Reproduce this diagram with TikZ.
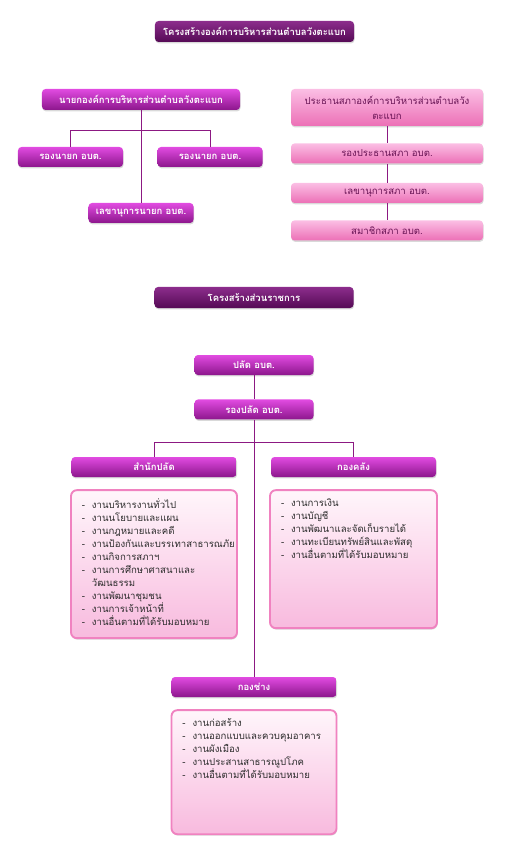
\documentclass[tikz,border=0pt]{standalone}
\usepackage{fontspec}
\setmainfont[Script=Thai]{Loma}
\usepackage{tikz}
\usetikzlibrary{
	positioning,
	shadows
}
\definecolor{TitleTop}{RGB}{140,45,140}
\definecolor{TitleBot}{RGB}{85,10,85}
\definecolor{HeadTop}{RGB}{225,75,225}
\definecolor{HeadBot}{RGB}{140,22,140}
\definecolor{PinkTop}{RGB}{251,190,228}
\definecolor{PinkBot}{RGB}{236,112,182}
\definecolor{PinkText}{RGB}{105,20,85}
\definecolor{ListEdge}{RGB}{240,130,192}
\definecolor{ListTop}{RGB}{255,246,251}
\definecolor{ListBot}{RGB}{248,186,222}
\definecolor{ListText}{RGB}{45,45,45}
\definecolor{LinkPurple}{RGB}{140,25,130}

\newcommand{\jobitem}[1]{\makebox[0.3cm][l]{-}#1\par}
\newcommand{\joblist}[3]{\parbox[c][#1][t]{#2}{\vspace*{0.25cm}\setlength{\leftskip}{0.33cm}\setlength{\parindent}{0pt}\fontsize{8.2}{11.1}\selectfont\color{ListText}#3}}

\begin{document}
\begin{tikzpicture}[
	x=0.03cm, y=-0.03cm,
	titlebox/.style={
		rounded corners=3pt,
		top color=TitleTop,
		bottom color=TitleBot,
		text=white,
		font=\bfseries\fontsize{8.1}{10}\selectfont,
		inner sep=0pt,
		minimum width=5.97cm,
		minimum height=0.63cm,
		drop shadow={shadow xshift=0.5pt, shadow yshift=-1.2pt, opacity=0.3}
	},
	headbox/.style={
		rounded corners=3pt,
		top color=HeadTop,
		bottom color=HeadBot,
		text=white,
		font=\bfseries\fontsize{8.1}{10}\selectfont,
		inner sep=0pt,
		minimum height=0.6cm,
		drop shadow={shadow xshift=0.5pt, shadow yshift=-1.2pt, opacity=0.3}
	},
	pinkbox/.style={
		rounded corners=3pt,
		top color=PinkTop,
		bottom color=PinkBot,
		text=PinkText,
		font=\fontsize{8.2}{13}\selectfont,
		align=center,
		inner sep=0pt,
		minimum width=5.76cm,
		minimum height=0.6cm,
		drop shadow={shadow xshift=0.5pt, shadow yshift=-1.2pt, opacity=0.3}
	},
	listbox/.style={
		draw=ListEdge,
		line width=1.6pt,
		rounded corners=5pt,
		top color=ListTop,
		bottom color=ListBot,
		inner sep=0pt,
		drop shadow={shadow xshift=0.5pt, shadow yshift=-1.2pt, opacity=0.3}
	},
	link/.style={
		draw=LinkPurple,
		line width=0.8pt
	}
	]
	\useasboundingbox (0,0) rectangle (509,850);
	
	% top part
	\node[titlebox] (title) at (254.5,31.5) {โครงสร้างองค์การบริหารส่วนตำบลวังตะแบก};
	
	\node[
	headbox,
	minimum width=5.94cm,
	minimum height=0.63cm
	] (nayok) at (141,99.5) {นายกองค์การบริหารส่วนตำบลวังตะแบก};
	
	\node[headbox, minimum width=3.15cm] (rongL) at (70.5,157) {รองนายก อบต.};
	\node[headbox, minimum width=3.15cm] (rongR) at (210,157) {รองนายก อบต.};
	\node[headbox, minimum width=3.15cm] (lekha) at (141,213) {เลขานุการนายก อบต.};
	
	\coordinate[below=0.6cm of nayok.south] (nayokjoin);
	\draw[link] (nayok.south) -- (lekha.north);
	\draw[link] (rongL.north) |- (nayokjoin) -| (rongR.north);
	
	% council
	\node[
	pinkbox,
	minimum height=1.11cm
	] (prathan) at (387,107.5) {ประธานสภาองค์การบริหารส่วนตำบลวัง\\ตะแบก};
	
	\node[pinkbox, below=0.51cm of prathan] (rongprathan) {รองประธานสภา อบต.};
	\node[pinkbox, below=0.57cm of rongprathan] (lekhasapha) {เลขานุการสภา อบต.};
	\node[pinkbox, below=0.51cm of lekhasapha] (samachik) {สมาชิกสภา อบต.};
	
	\draw[link] (prathan) -- (rongprathan) -- (lekhasapha) -- (samachik);
	
	% civil service part
	\node[titlebox] (title2) at (254,297.5) {โครงสร้างส่วนราชการ};
	
	\node[headbox, minimum width=3.57cm] (palad) at (254,365) {ปลัด อบต.};
	\node[headbox, minimum width=3.57cm, below=0.72cm of palad] (rongpalad) {รองปลัด อบต.};
	
	\node[headbox, minimum width=4.95cm] (samnak) at (154,467) {สำนักปลัด};
	\node[headbox, minimum width=4.95cm] (klang) at (353.5,467) {กองคลัง};
	\node[headbox, minimum width=4.95cm] (chang) at (254,687) {กองช่าง};
	
	\node[
	listbox,
	below=0.36cm of samnak
	] (listA) {\joblist{4.44cm}{4.98cm}{
			\jobitem{งานบริหารงานทั่วไป}
			\jobitem{งานนโยบายและแผน}
			\jobitem{งานกฎหมายและคดี}
			\jobitem{งานป้องกันและบรรเทาสาธารณภัย}
			\jobitem{งานกิจการสภาฯ}
			\jobitem{งานการศึกษาศาสนาและ\\\hspace*{0.3cm}วัฒนธรรม}
			\jobitem{งานพัฒนาชุมชน}
			\jobitem{งานการเจ้าหน้าที่}
			\jobitem{งานอื่นตามที่ได้รับมอบหมาย}}};
	
	\node[
	listbox,
	below=0.36cm of klang
	] (listB) {\joblist{4.14cm}{5.01cm}{
			\jobitem{งานการเงิน}
			\jobitem{งานบัญชี}
			\jobitem{งานพัฒนาและจัดเก็บรายได้}
			\jobitem{งานทะเบียนทรัพย์สินและพัสดุ}
			\jobitem{งานอื่นตามที่ได้รับมอบหมาย}}};
	
	\node[
	listbox,
	below=0.36cm of chang
	] (listC) {\joblist{3.72cm}{4.95cm}{
			\jobitem{งานก่อสร้าง}
			\jobitem{งานออกแบบและควบคุมอาคาร}
			\jobitem{งานผังเมือง}
			\jobitem{งานประสานสาธารณูปโภค}
			\jobitem{งานอื่นตามที่ได้รับมอบหมาย}}};
	
	\coordinate[below=0.69cm of rongpalad.south] (paladjoin);
	\draw[link] (palad) -- (rongpalad);
	\draw[link] (rongpalad.south) -- (chang.north);
	\draw[link] (samnak.north) |- (paladjoin) -| (klang.north);
	
\end{tikzpicture}
\end{document}
